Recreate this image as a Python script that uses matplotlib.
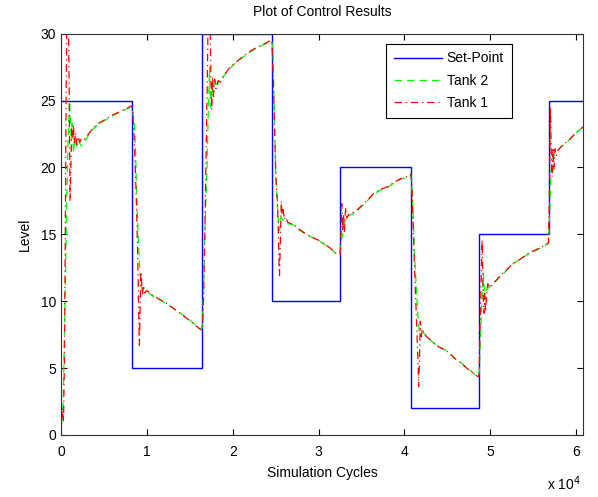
import matplotlib
matplotlib.use("Agg")
import matplotlib.pyplot as plt
from matplotlib.ticker import FuncFormatter

plt.rcParams['font.family'] = ['Liberation Sans', 'DejaVu Sans']

# set-point steps (simulation cycle where each level starts)
sp_x = [0, 8230, 16470, 24550, 32500, 40780, 48700, 56780, 60800]
sp_y = [25, 5, 30, 10, 20, 2, 15, 25, 25]

# Tank 2 level
tank2_x = [0, 250, 450, 650, 850, 1000, 1100, 1200, 1300, 1450, 1600, 1800, 2000, 2200, 2400,
           3200, 3750, 4500, 5300, 6100, 6900, 7600, 8100,
           8230, 8400, 8550, 8700, 8800, 9000, 9200, 9400, 9600, 10000, 10750, 12150, 13650,
           15200, 16200, 16400,
           16470, 16650, 16800, 17000, 17150, 17300, 17420, 17550, 17700, 17900, 18200, 18900,
           19500, 20300, 21100, 21800, 22700, 23500, 24000, 24450,
           24550, 24700, 24800, 24900, 25000, 25150, 25300, 25450, 25600, 25900, 26400, 27050,
           27800, 28600, 29500, 30200, 31300, 32100, 32400,
           32500, 32650, 32850, 33000, 33200, 33500, 34250, 35200, 36350, 37150, 38000, 38700,
           39500, 40450, 40700,
           40780, 40950, 41150, 41350, 41500, 41700, 41850, 42000, 42950, 43950, 44900, 45900,
           46500, 47800, 48200, 48600,
           48700, 48850, 49000, 49200, 49350, 49550, 49950, 50450, 51150, 51900, 52700, 53500,
           54250, 55000, 55800, 56500, 56750,
           56780, 56900, 57050, 57150, 57350, 57700, 58300, 59200, 60000, 60650, 60800]
tank2_y = [0, 2.5, 9, 17, 22.5, 25, 23.5, 22, 23.3, 21.1, 22.2, 21.6, 22.0, 21.8, 21.6,
           22.4, 22.9, 23.3, 23.6, 23.9, 24.15, 24.35, 24.5,
           24.5, 24.0, 23.3, 21.0, 18.3, 14.6, 12.1, 10.9, 11.0, 10.7, 10.35, 9.86, 9.22,
           8.48, 7.95, 8.0,
           8.2, 12, 16, 20, 24, 27.5, 24.5, 26, 25.6, 26.3, 26.2, 26.8,
           27.3, 27.8, 28.2, 28.55, 28.9, 29.15, 29.3, 29.45,
           29.4, 28.8, 25.3, 22.8, 19.8, 17.6, 16.1, 15.3, 16.3, 16.0, 15.8, 15.7,
           15.3, 14.96, 14.7, 14.46, 14.0, 13.5, 13.6,
           13.6, 14.5, 15.3, 15.8, 16.1, 16.4, 16.6, 17.2, 17.95, 18.3, 18.5, 18.8,
           19.1, 19.3, 19.4,
           19.3, 17.6, 13.8, 11.35, 9.6, 7.8, 7.6, 7.8, 7.1, 6.6, 6.3, 5.7,
           5.45, 4.75, 4.5, 4.4,
           4.6, 7, 9.6, 12.1, 10.1, 10.85, 11.1, 11.35, 11.84, 12.3, 12.84, 13.1,
           13.46, 13.7, 13.96, 14.2, 14.3,
           14.4, 16.5, 19.3, 20.6, 20.8, 21.2, 21.56, 22.06, 22.6, 22.94, 23.0]

# Tank 1 level
tank1_x = [0, 150, 300, 400, 500, 600, 700, 850, 950, 1050, 1150, 1250, 1350, 1450, 1550,
           1700, 1850, 2000, 2200, 2400, 2700, 3200, 3750, 4500, 5300, 6100, 6900, 7600, 8150,
           8230, 8350, 8500, 8650, 8800, 8950, 9050, 9130, 9220, 9300, 9400, 9500, 9600, 9750,
           10000, 10750, 12150, 13650, 15200, 16200, 16400,
           16470, 16600, 16750, 16900, 17050, 17150, 17350, 17450, 17550, 17650, 17750, 17900,
           18050, 18300, 18600, 18900, 19500, 20300, 21100, 21800, 22700, 23500, 24000, 24450,
           24550, 24650, 24750, 24850, 24950, 25050, 25200, 25300, 25400, 25450, 25550, 25650,
           25750, 25850, 26000, 26200, 26400, 27050, 27800, 28600, 29500, 30200, 31300, 32100,
           32400,
           32500, 32600, 32700, 32800, 32900, 33000, 33150, 33300, 33500, 34250, 35200, 36350,
           37150, 38000, 38700, 39500, 40450, 40700,
           40780, 40900, 41050, 41200, 41350, 41450, 41580, 41650, 41750, 41850, 41950, 42100,
           42300, 42950, 43950, 44900, 45900, 46500, 47800, 48200, 48600,
           48700, 48800, 48950, 49050, 49150, 49250, 49350, 49450, 49550, 49700, 49950, 50450,
           51150, 51900, 52700, 53500, 54250, 55000, 55800, 56500, 56750,
           56780, 56900, 57000, 57100, 57200, 57300, 57400, 57550, 57700, 57900, 58300, 59200,
           60000, 60650, 60800]
tank1_y = [0, 2, 1, 6, 15, 26, 32, 32, 26, 17.5, 20, 23, 22.3, 23.2, 21.8,
           22.6, 21.7, 22.3, 21.9, 22.2, 22.1, 22.5, 22.95, 23.35, 23.65, 23.95, 24.2, 24.4, 24.6,
           24.6, 24.2, 22.5, 20, 17, 13, 9, 6.7, 9.5, 12.2, 11.3, 10.5, 11.2, 10.6,
           10.8, 10.4, 9.9, 9.2, 8.45, 7.9, 7.85,
           8.0, 10, 15, 21, 27, 32, 32, 27, 24.3, 26.8, 25.3, 26.6,
           25.9, 26.5, 26.4, 26.8, 27.35, 27.85, 28.25, 28.6, 28.95, 29.2, 29.35, 29.5,
           29.5, 28, 26, 23.5, 21, 19, 17.5, 15.5, 12.5, 11.9, 14.5, 17.5,
           16.5, 17.0, 16.1, 16.3, 15.9, 15.75, 15.35, 15.0, 14.7, 14.5, 14.0, 13.55,
           13.5,
           13.5, 15, 17.3, 15.2, 16.5, 15.2, 17.0, 16.2, 16.5, 16.7, 17.25, 18.0,
           18.35, 18.55, 18.85, 19.15, 19.35, 19.5,
           19.5, 18, 15, 12, 9.5, 8, 5.5, 3.6, 5.6, 8.5, 7.35, 7.9,
           7.5, 7.15, 6.6, 6.3, 5.7, 5.4, 4.7, 4.5, 4.35,
           4.5, 8, 12, 14.6, 11, 9.1, 10.6, 9.2, 10.4, 11.3, 11.0, 11.4,
           11.9, 12.35, 12.85, 13.15, 13.5, 13.75, 14.0, 14.25, 14.35,
           14.4, 19, 24.5, 21, 19.3, 21.5, 19.8, 21.4, 20.9, 21.3, 21.6, 22.1,
           22.6, 22.95, 23.05]

fig = plt.figure(figsize=(5.98, 4.97), dpi=100)
ax = fig.add_axes([0.102, 0.125, 0.873, 0.807])

ax.plot(sp_x, sp_y, color='#0000ff', lw=1.0, drawstyle='steps-post', label='Set-Point')
ax.plot(tank2_x, tank2_y, color='#00ff00', lw=0.9, ls=(0, (6, 4)), label='Tank 2')
ax.plot(tank1_x, tank1_y, color='#ff0000', lw=0.9, ls=(0, (6, 3, 1, 3)), label='Tank 1')

ax.set_xlim(0, 60800)
ax.set_ylim(0, 30)
ax.set_xticks([0, 10000, 20000, 30000, 40000, 50000, 60000])
ax.xaxis.set_major_formatter(FuncFormatter(lambda v, p: '%d' % round(v / 10000)))
ax.set_yticks([0, 5, 10, 15, 20, 25, 30])
ax.tick_params(direction='in', top=True, right=True, labelsize=10, length=4, width=0.8)
ax.tick_params(axis='x', pad=7)
for s in ax.spines.values():
    s.set_linewidth(0.8)
    s.set_color('#333333')

ax.set_title('Plot of Control Results', fontsize=10, pad=13)
ax.set_xlabel('Simulation Cycles', fontsize=10, labelpad=5)
ax.set_ylabel('Level', fontsize=10, labelpad=6)
fig.text(0.914, 0.008, r'x 10$^{4}$', fontsize=10, ha='left', va='bottom')

leg = ax.legend(loc='upper left', bbox_to_anchor=(0.623, 0.975), borderaxespad=0,
                fancybox=False, edgecolor='black', fontsize=10, handlelength=3.5,
                borderpad=0.55, labelspacing=0.6, handletextpad=0.3, framealpha=1)
leg.get_frame().set_linewidth(0.8)

fig.savefig('out.png', dpi=100)
